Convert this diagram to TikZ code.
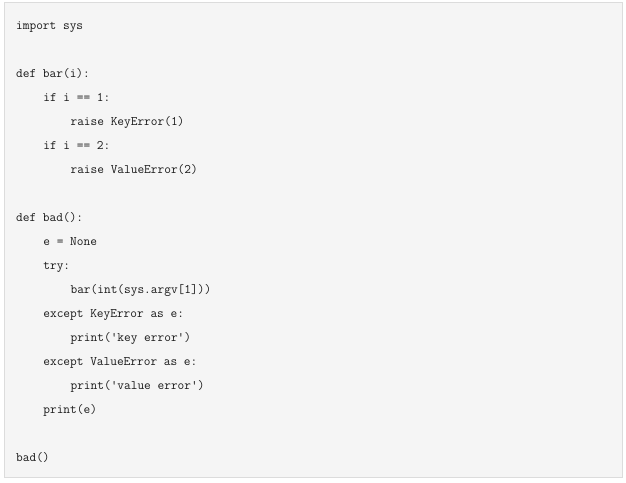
\documentclass[tikz,border=0pt]{standalone}
\usepackage{xcolor}
\usepackage{tikz}
\definecolor{boxfill}{HTML}{F5F5F5}
\definecolor{boxline}{HTML}{DCDCDC}
\definecolor{codetext}{HTML}{1A1A1A}

\begin{document}
\begin{tikzpicture}[x=1pt, y=-1pt,
  codeline/.style={anchor=base west, inner sep=0pt, text=codetext,
    font=\fontsize{13}{13}\selectfont\ttfamily}]
\newcommand{\Lx}{16} % left margin of code
\newcommand{\Ind}{27.2} % one indent level

\useasboundingbox (0,0) rectangle (626,482);

% code box
\draw[boxline, fill=boxfill, line width=1pt] (4,2) rectangle (622,477);

% module level
\node[codeline] (imp)   at (\Lx, 29)  {import sys};
\node[codeline] (defbar) at (\Lx, 77) {def bar(i):};
\node[codeline] (ifone) at (\Lx + \Ind, 101) {if i == 1:};
\node[codeline] (raisek) at (\Lx + 2*\Ind, 125) {raise KeyError(1)};
\node[codeline] (iftwo) at (\Lx + \Ind, 149) {if i == 2:};
\node[codeline] (raisev) at (\Lx + 2*\Ind, 173) {raise ValueError(2)};

% function bad
\node[codeline] (defbad) at (\Lx, 221) {def bad():};
\node[codeline] (enone) at (\Lx + \Ind, 245) {e = None};
\node[codeline] (try)   at (\Lx + \Ind, 269) {try:};
\node[codeline] (call)  at (\Lx + 2*\Ind, 293) {bar(int(sys.argv[1]))};
\node[codeline] (exk)   at (\Lx + \Ind, 317) {except KeyError as e:};
\node[codeline] (prk)   at (\Lx + 2*\Ind, 341) {print('key error')};
\node[codeline] (exv)   at (\Lx + \Ind, 365) {except ValueError as e:};
\node[codeline] (prv)   at (\Lx + 2*\Ind, 389) {print('value error')};
\node[codeline] (pre)   at (\Lx + \Ind, 413) {print(e)};

\node[codeline] (run)   at (\Lx, 461) {bad()};
\end{tikzpicture}
\end{document}
